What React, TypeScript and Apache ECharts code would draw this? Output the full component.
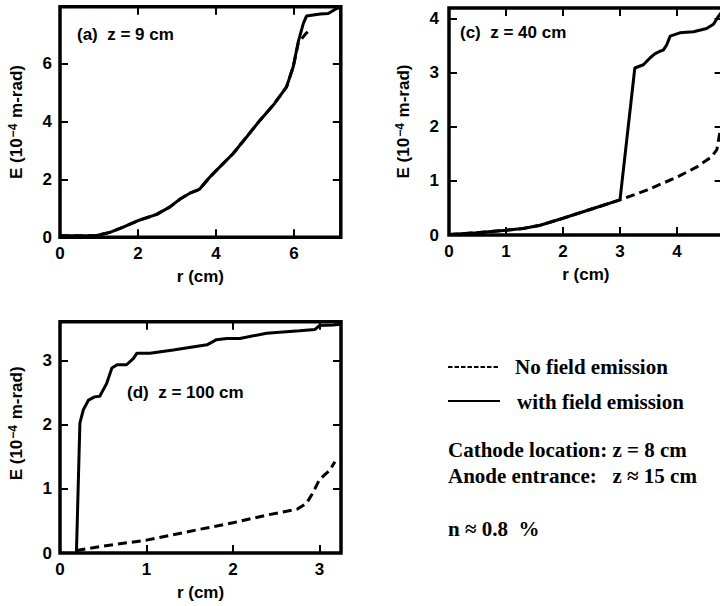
import React, { useEffect, useRef } from "react";
import * as echarts from "echarts";

const SANS = "Liberation Sans";
const SERIF = "Liberation Serif";

// Panel (a) z = 9 cm
const aWithR = [0, 0.5, 0.94, 1.28, 1.62, 1.99, 2.48, 2.82, 3.08, 3.33, 3.57, 3.85, 4.1, 4.44, 4.79, 5.13, 5.47, 5.81, 5.98, 6.11, 6.24, 6.32, 6.67, 6.88, 7.05, 7.2];
const aWithE = [0.05, 0.05, 0.06, 0.17, 0.35, 0.57, 0.79, 1.05, 1.32, 1.52, 1.65, 2.09, 2.43, 2.89, 3.47, 4.04, 4.56, 5.19, 5.88, 6.75, 7.38, 7.63, 7.7, 7.72, 7.86, 7.95];
const aNoR = [0, 0.5, 0.94, 1.28, 1.62, 1.99, 2.48, 2.82, 3.08, 3.33, 3.57, 3.85, 4.1, 4.44, 4.79, 5.13, 5.47, 5.81, 5.98, 6.11, 6.2, 6.3, 6.38];
const aNoE = [0.05, 0.05, 0.06, 0.17, 0.35, 0.57, 0.79, 1.05, 1.32, 1.52, 1.65, 2.09, 2.43, 2.89, 3.47, 4.04, 4.56, 5.19, 5.88, 6.7, 6.85, 7.02, 7.12];

// Panel (c) z = 40 cm
const cWithR = [0, 0.48, 1.01, 1.3, 1.6, 2.0, 2.53, 3.0, 3.26, 3.41, 3.53, 3.61, 3.7, 3.76, 3.82, 3.88, 4.05, 4.29, 4.52, 4.64, 4.73, 4.8];
const cWithE = [0.01, 0.04, 0.09, 0.12, 0.18, 0.31, 0.49, 0.65, 3.09, 3.15, 3.28, 3.35, 3.4, 3.42, 3.52, 3.68, 3.74, 3.76, 3.82, 3.9, 4.05, 4.15];
const cNoR = [0, 0.48, 1.01, 1.3, 1.6, 2.0, 2.53, 3.0, 3.47, 4.0, 4.35, 4.61, 4.7, 4.75, 4.8];
const cNoE = [0.01, 0.04, 0.09, 0.12, 0.18, 0.31, 0.49, 0.65, 0.83, 1.07, 1.26, 1.45, 1.58, 1.89, 2.1];

// Panel (d) z = 100 cm
const dWithR = [0.19, 0.23, 0.27, 0.33, 0.4, 0.46, 0.54, 0.6, 0.66, 0.77, 0.85, 0.89, 1.04, 1.31, 1.7, 1.81, 1.93, 2.08, 2.39, 2.77, 2.95, 3.0, 3.16, 3.25];
const dWithE = [0.0, 2.02, 2.23, 2.38, 2.43, 2.44, 2.64, 2.88, 2.93, 2.93, 3.03, 3.11, 3.11, 3.16, 3.24, 3.32, 3.34, 3.34, 3.42, 3.46, 3.48, 3.54, 3.55, 3.56];
const dNoR = [0.19, 0.46, 1.0, 1.62, 2.0, 2.39, 2.74, 2.85, 2.93, 3.0, 3.12, 3.18];
const dNoE = [0.04, 0.1, 0.2, 0.37, 0.47, 0.59, 0.68, 0.77, 0.95, 1.14, 1.29, 1.42];

const panelTitles = ["(a)  z = 9 cm", "(c)  z = 40 cm", "(d)  z = 100 cm"];
const seriesNames = ["No field emission", "with field emission"];
const noteLines = ["Cathode location: z = 8 cm", "Anode entrance:   z \u2248 15 cm", "n \u2248 0.8  %"];

const zip = (r: number[], e: number[]) => r.map((v, i) => [v, e[i]]);

const labelFont = { fontFamily: SANS, fontWeight: "bold" as const, fontSize: 17, color: "#000" };

type Panel = { xMax: number; xInt: number; yMax: number; yInt: number; yLabelMargin: number; yNameGap: number; yNamePad: number[] };
type Rect = { left: number; top: number; width: number; height: number };

function labelAxes(g: number, p: Panel) {
  const noLine = { show: false, onZero: false };
  const x = {
    type: "value", gridIndex: g, min: 0, max: p.xMax, interval: p.xInt, position: "bottom",
    name: "r (cm)", nameLocation: "middle", nameGap: 31, nameTextStyle: labelFont,
    axisLine: noLine, axisTick: { show: false },
    axisLabel: { ...labelFont, margin: 8, showMaxLabel: false },
    splitLine: { show: false },
  };
  const y = {
    type: "value", gridIndex: g, min: 0, max: p.yMax, interval: p.yInt, position: "left",
    name: "{n|E (10}{s|\u22124}{n| m-rad)}", nameLocation: "middle", nameRotate: 90, nameGap: p.yNameGap,
    nameTextStyle: {
      padding: p.yNamePad,
      rich: {
        n: { fontFamily: SANS, fontWeight: "bold", fontSize: 17, color: "#000" },
        s: { fontFamily: SANS, fontWeight: "bold", fontSize: 12, color: "#000", verticalAlign: "top", padding: [0, 1, 6, 1] },
      },
    },
    axisLine: noLine, axisTick: { show: false },
    axisLabel: { ...labelFont, margin: p.yLabelMargin, showMaxLabel: false },
    splitLine: { show: false },
  };
  return { x, y };
}

const TICK = 8;

// Inward tick marks: thin bands along each edge of a panel, whose axis split lines
// (drawn at the panel's tick values) are exactly TICK pixels long.
function tickBands(p: Panel, r: Rect) {
  return [
    { dim: "x", rect: { left: r.left, top: r.top + r.height - TICK, width: r.width, height: TICK } },
    { dim: "x", rect: { left: r.left, top: r.top, width: r.width, height: TICK } },
    { dim: "y", rect: { left: r.left, top: r.top, width: TICK, height: r.height } },
    { dim: "y", rect: { left: r.left + r.width - TICK, top: r.top, width: TICK, height: r.height } },
  ].map((b) => ({ ...b, p }));
}

export default function App() {
  const ref = useRef<HTMLDivElement>(null);
  useEffect(() => {
    const chart = echarts.init(ref.current!, null, { renderer: "svg" });
    const panels: Panel[] = [
      { xMax: 7.2, xInt: 2, yMax: 7.95, yInt: 2, yLabelMargin: 8, yNameGap: 35, yNamePad: [0, 0, 0, 0] },
      { xMax: 4.8, xInt: 1, yMax: 4.2, yInt: 1, yLabelMargin: 10, yNameGap: 37, yNamePad: [0, 0, 0, 0] },
      { xMax: 3.25, xInt: 1, yMax: 3.6, yInt: 1, yLabelMargin: 8, yNameGap: 35, yNamePad: [0, 0, 0, 28] },
    ];
    const rects: Rect[] = [
      { left: 60, top: 6.8, width: 280.8, height: 230.5 },
      { left: 449, top: 8, width: 273.6, height: 227 },
      { left: 60, top: 321.7, width: 281, height: 231.3 },
    ];
    const gridStyle = { show: true, borderColor: "#000", borderWidth: 3.5, backgroundColor: "transparent" };
    const lab = panels.map((p, i) => labelAxes(i, p));
    const bands = panels.flatMap((p, i) => tickBands(p, rects[i]));
    const hidden = (g: number) => ({ type: "value", gridIndex: g, show: false, min: 0, max: 1 });
    const splitAxis = (g: number, max: number, interval: number) => ({
      type: "value", gridIndex: g, min: 0, max, interval,
      axisLine: { show: false, onZero: false }, axisTick: { show: false }, axisLabel: { show: false },
      splitLine: { show: true, lineStyle: { color: "#000", width: 2, type: "solid" } },
    });
    const bandX = bands.map((b, k) => (b.dim === "x" ? splitAxis(3 + k, b.p.xMax, b.p.xInt) : hidden(3 + k)));
    const bandY = bands.map((b, k) => (b.dim === "y" ? splitAxis(3 + k, b.p.yMax, b.p.yInt) : hidden(3 + k)));
    const solid = { color: "#000", width: 3, type: "solid" as const };
    const dashed = { color: "#000", width: 3, type: [9, 5] };
    const mk = (name: string, gi: number, data: number[][], ls: any) => ({
      type: "line", name, xAxisIndex: gi, yAxisIndex: gi, data, symbol: "none",
      lineStyle: ls, itemStyle: { color: "#000" }, z: 3,
    });
    const titleStyle = { fontFamily: SANS, fontWeight: "bold" as const, fontSize: 17, color: "#000" };
    const serifFont = `bold 21px "${SERIF}"`;
    const legendGraphics: any[] = [
      { type: "line", shape: { x1: 448, y1: 367, x2: 500, y2: 367 }, style: { stroke: "#000", lineWidth: 2, lineDash: [4.5, 2] } },
      { type: "text", x: 515, y: 367, style: { text: seriesNames[0], font: serifFont, fill: "#000", verticalAlign: "middle", align: "left" } },
      { type: "line", shape: { x1: 448, y1: 401, x2: 500, y2: 401 }, style: { stroke: "#000", lineWidth: 2 } },
      { type: "text", x: 517, y: 402, style: { text: seriesNames[1], font: serifFont, fill: "#000", verticalAlign: "middle", align: "left" } },
    ];
    const noteGraphics = noteLines.map((t, i) => ({
      type: "text", x: 448, y: [450, 476, 529][i],
      style: { text: t, font: serifFont, fill: "#000", verticalAlign: "middle", align: "left" },
    }));
    const option: any = {
      animation: false,
      backgroundColor: "#fff",
      title: [
        { text: panelTitles[0], left: 77, top: 26, padding: 0, textStyle: titleStyle },
        { text: panelTitles[1], left: 460, top: 24, padding: 0, textStyle: titleStyle },
        { text: panelTitles[2], left: 127, top: 384, padding: 0, textStyle: titleStyle },
      ],
      grid: [
        ...rects.map((r) => ({ ...r, ...gridStyle })),
        ...bands.map((b) => ({ ...b.rect, show: false })),
      ],
      xAxis: [...lab.map((l) => l.x), ...bandX],
      yAxis: [...lab.map((l) => l.y), ...bandY],
      graphic: [...legendGraphics, ...noteGraphics],
      series: [
        mk(seriesNames[0], 0, zip(aNoR, aNoE), dashed),
        mk(seriesNames[1], 0, zip(aWithR, aWithE), solid),
        mk(seriesNames[0], 1, zip(cNoR, cNoE), dashed),
        mk(seriesNames[1], 1, zip(cWithR, cWithE), solid),
        mk(seriesNames[0], 2, zip(dNoR, dNoE), dashed),
        mk(seriesNames[1], 2, zip(dWithR, dWithE), solid),
      ],
    };
    chart.setOption(option);
    return () => chart.dispose();
  }, []);
  return (
    <div style={{ position: "fixed", left: 0, top: 0, width: 720, height: 606, overflow: "hidden", background: "#fff" }}>
      <div ref={ref} style={{ width: 740, height: 606 }} />
    </div>
  );
}
